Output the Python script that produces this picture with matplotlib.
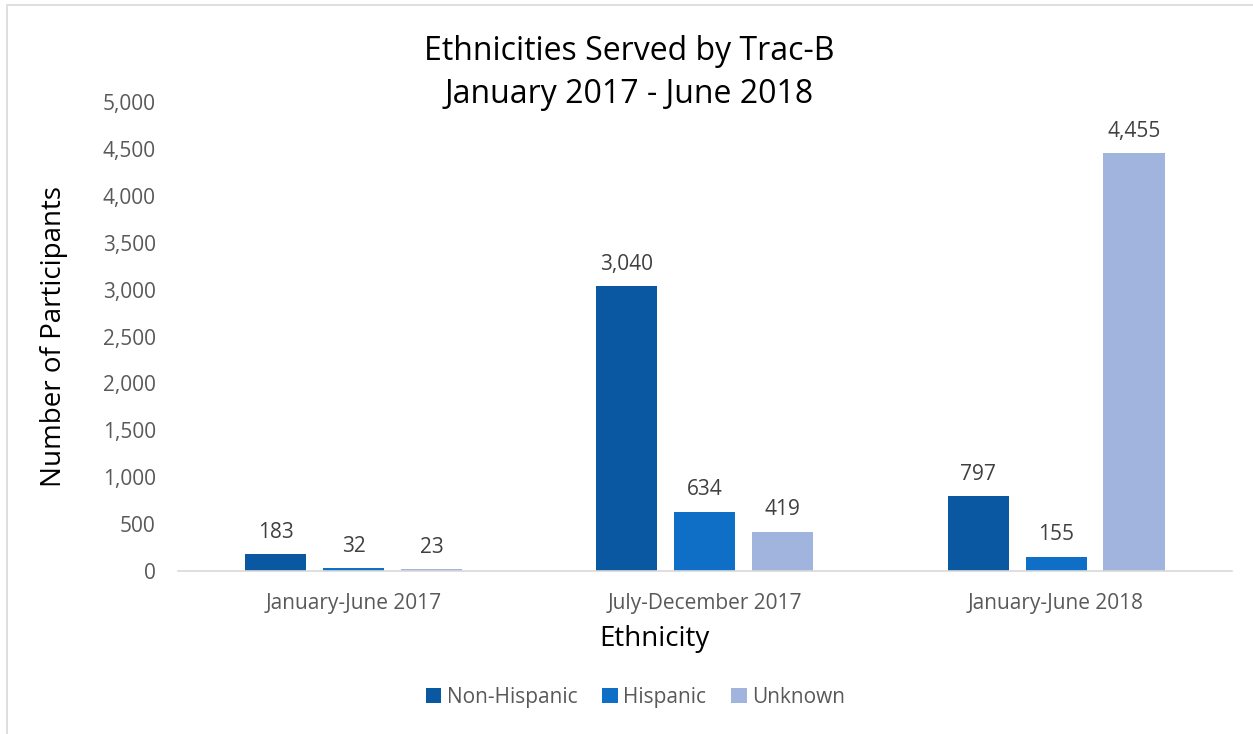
import numpy as np
import matplotlib
matplotlib.use("Agg")
import matplotlib.pyplot as plt
from matplotlib.patches import Rectangle
from matplotlib.ticker import FuncFormatter

# dados
periodos = ["January-June 2017", "July-December 2017", "January-June 2018"]
series = ["Non-Hispanic", "Hispanic", "Unknown"]
non_hispanic = [183, 3040, 797]
hispanic = [32, 634, 155]
unknown = [23, 419, 4455]
cores = ["#0B58A2", "#0F6FC6", "#A1B4DE"]

plt.rcParams["font.family"] = ["Open Sans", "DejaVu Sans"]

fig = plt.figure(figsize=(12.53, 7.34), dpi=100)
ax = fig.add_axes([0.142, 0.222, 0.841, 0.639])

# moldura cinza clara da área do gráfico
fig.add_artist(Rectangle((7 / 1253, -0.1), 1.2, 1.1 - 5 / 734,
                         transform=fig.transFigure, fill=False,
                         edgecolor="#d9d9d9", linewidth=1.2))

x = np.arange(len(periodos))
largura = 0.174
passo = 0.222
valores = [non_hispanic, hispanic, unknown]

for i, (nome, vals, cor) in enumerate(zip(series, valores, cores)):
    pos = x + (i - 1) * passo
    barras = ax.bar(pos, vals, width=largura, color=cor, label=nome)
    for b, v in zip(barras, vals):
        ax.text(b.get_x() + b.get_width() / 2, v + 120, f"{v:,}",
                ha="center", va="bottom", fontsize=15, color="#404040")

ax.set_xlim(-0.5, 2.5)
ax.set_ylim(0, 5000)
ax.set_yticks(np.arange(0, 5001, 500))
ax.yaxis.set_major_formatter(FuncFormatter(lambda v, _: f"{int(v):,}"))
ax.set_xticks(x)
ax.set_xticklabels(periodos)

for lado in ["top", "right", "left"]:
    ax.spines[lado].set_visible(False)
ax.spines["bottom"].set_color("#d9d9d9")
ax.spines["bottom"].set_linewidth(1.2)
ax.tick_params(axis="y", length=0, labelsize=15, labelcolor="#595959", pad=16)
ax.tick_params(axis="x", length=0, labelsize=15, labelcolor="#595959", pad=16)

ax.set_ylabel("Number of Participants", fontsize=20, color="black", labelpad=25)
ax.set_xlabel("Ethnicity", fontsize=20, color="black")
ax.xaxis.set_label_coords(0.4526, -0.115)

fig.text(0.502, 0.90, "Ethnicities Served by Trac-B\nJanuary 2017 - June 2018",
         ha="center", va="center", fontsize=23, linespacing=1.4)

fig.legend(loc="center", bbox_to_anchor=(0.507, 0.05), ncol=3, frameon=False,
           fontsize=15, handlelength=0.75, handleheight=0.75, handletextpad=0.25,
           columnspacing=1.2, labelcolor="#595959")

fig.savefig("out.png", dpi=100)
